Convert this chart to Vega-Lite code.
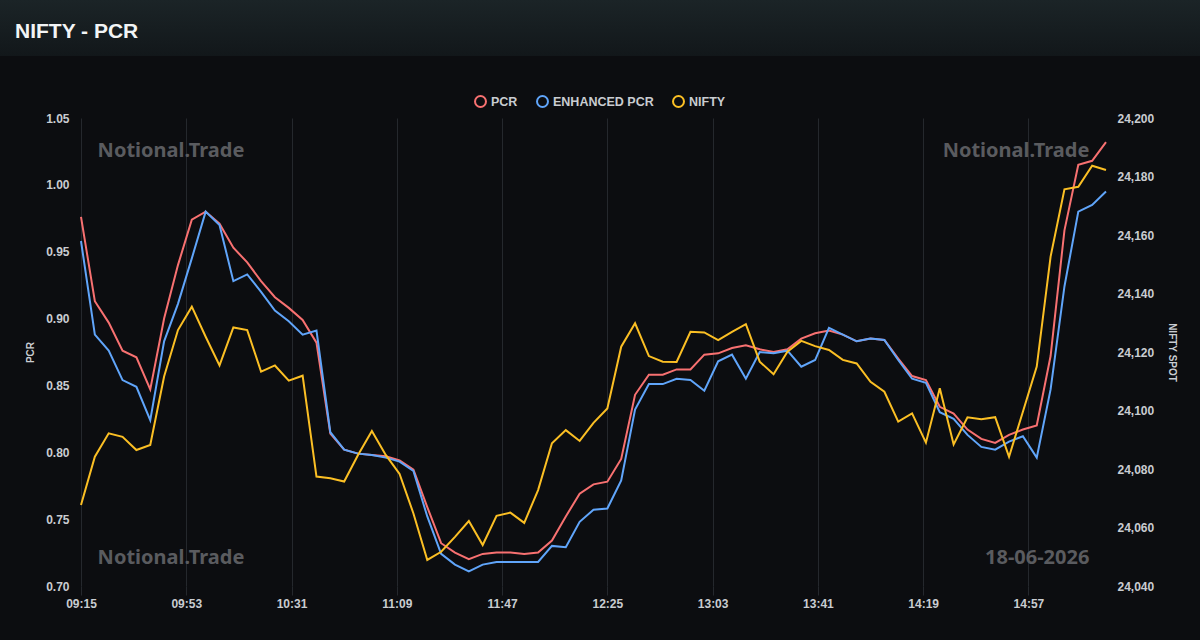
{
  "$schema": "https://vega.github.io/schema/vega-lite/v6.json",
  "background": "#0c0d10",
  "padding": {"left": 0, "top": 0, "right": 0, "bottom": 31},
  "spacing": 62,
  "bounds": "flush",
  "resolve": {"scale": {"color": "independent"}, "legend": {"color": "independent"}},
  "config": {
    "view": {"stroke": null},
    "font": "Liberation Sans",
    "axis": {
      "labelColor": "#c9ccd1",
      "labelFont": "Liberation Sans",
      "labelFontWeight": "bold",
      "labelFontSize": 12,
      "titleColor": "#c9ccd1",
      "titleFont": "Liberation Sans",
      "titleFontSize": 10,
      "titleFontWeight": "bold",
      "domain": false,
      "grid": false,
      "ticks": false
    },
    "legend": {
      "labelColor": "#c9ccd1",
      "labelFont": "Liberation Sans",
      "labelFontWeight": "bold",
      "labelFontSize": 12.5
    },
    "title": {"color": "#f2f4f5", "font": "Liberation Sans", "fontWeight": "bold"}
  },
  "datasets": {
    "pcr": [
      {"time": "09:15", "pcr": 0.976, "enhanced": 0.958, "nifty": 24067.7},
      {"time": "09:20", "pcr": 0.913, "enhanced": 0.888, "nifty": 24084.2},
      {"time": "09:25", "pcr": 0.897, "enhanced": 0.876, "nifty": 24092.2},
      {"time": "09:30", "pcr": 0.876, "enhanced": 0.854, "nifty": 24091.0},
      {"time": "09:35", "pcr": 0.871, "enhanced": 0.849, "nifty": 24086.5},
      {"time": "09:40", "pcr": 0.847, "enhanced": 0.824, "nifty": 24088.2},
      {"time": "09:45", "pcr": 0.900, "enhanced": 0.883, "nifty": 24111.6},
      {"time": "09:50", "pcr": 0.940, "enhanced": 0.911, "nifty": 24127.5},
      {"time": "09:55", "pcr": 0.974, "enhanced": 0.945, "nifty": 24135.5},
      {"time": "10:00", "pcr": 0.980, "enhanced": 0.980, "nifty": 24125.2},
      {"time": "10:05", "pcr": 0.971, "enhanced": 0.970, "nifty": 24115.4},
      {"time": "10:10", "pcr": 0.953, "enhanced": 0.928, "nifty": 24128.4},
      {"time": "10:15", "pcr": 0.942, "enhanced": 0.933, "nifty": 24127.5},
      {"time": "10:20", "pcr": 0.928, "enhanced": 0.920, "nifty": 24113.3},
      {"time": "10:25", "pcr": 0.916, "enhanced": 0.906, "nifty": 24115.4},
      {"time": "10:30", "pcr": 0.908, "enhanced": 0.898, "nifty": 24110.2},
      {"time": "10:35", "pcr": 0.899, "enhanced": 0.888, "nifty": 24111.9},
      {"time": "10:40", "pcr": 0.882, "enhanced": 0.891, "nifty": 24077.4},
      {"time": "10:45", "pcr": 0.814, "enhanced": 0.815, "nifty": 24076.8},
      {"time": "10:50", "pcr": 0.802, "enhanced": 0.802, "nifty": 24075.7},
      {"time": "10:55", "pcr": 0.799, "enhanced": 0.799, "nifty": 24084.8},
      {"time": "11:00", "pcr": 0.798, "enhanced": 0.798, "nifty": 24093.0},
      {"time": "11:05", "pcr": 0.797, "enhanced": 0.796, "nifty": 24084.8},
      {"time": "11:10", "pcr": 0.794, "enhanced": 0.793, "nifty": 24078.3},
      {"time": "11:15", "pcr": 0.787, "enhanced": 0.786, "nifty": 24064.8},
      {"time": "11:20", "pcr": 0.759, "enhanced": 0.752, "nifty": 24048.9},
      {"time": "11:25", "pcr": 0.732, "enhanced": 0.724, "nifty": 24051.7},
      {"time": "11:30", "pcr": 0.725, "enhanced": 0.716, "nifty": 24056.8},
      {"time": "11:35", "pcr": 0.720, "enhanced": 0.711, "nifty": 24062.2},
      {"time": "11:40", "pcr": 0.724, "enhanced": 0.716, "nifty": 24054.0},
      {"time": "11:45", "pcr": 0.725, "enhanced": 0.718, "nifty": 24064.0},
      {"time": "11:50", "pcr": 0.725, "enhanced": 0.718, "nifty": 24065.1},
      {"time": "11:55", "pcr": 0.724, "enhanced": 0.718, "nifty": 24061.6},
      {"time": "12:00", "pcr": 0.725, "enhanced": 0.718, "nifty": 24072.8},
      {"time": "12:05", "pcr": 0.734, "enhanced": 0.730, "nifty": 24088.8},
      {"time": "12:10", "pcr": 0.752, "enhanced": 0.729, "nifty": 24093.3},
      {"time": "12:15", "pcr": 0.769, "enhanced": 0.748, "nifty": 24089.6},
      {"time": "12:20", "pcr": 0.776, "enhanced": 0.757, "nifty": 24095.8},
      {"time": "12:25", "pcr": 0.778, "enhanced": 0.758, "nifty": 24100.7},
      {"time": "12:30", "pcr": 0.795, "enhanced": 0.779, "nifty": 24121.8},
      {"time": "12:35", "pcr": 0.843, "enhanced": 0.832, "nifty": 24129.8},
      {"time": "12:40", "pcr": 0.858, "enhanced": 0.851, "nifty": 24118.6},
      {"time": "12:45", "pcr": 0.858, "enhanced": 0.851, "nifty": 24116.7},
      {"time": "12:50", "pcr": 0.862, "enhanced": 0.855, "nifty": 24116.6},
      {"time": "12:55", "pcr": 0.862, "enhanced": 0.854, "nifty": 24126.9},
      {"time": "13:00", "pcr": 0.873, "enhanced": 0.846, "nifty": 24126.7},
      {"time": "13:05", "pcr": 0.874, "enhanced": 0.868, "nifty": 24124.1},
      {"time": "13:10", "pcr": 0.878, "enhanced": 0.873, "nifty": 24126.9},
      {"time": "13:15", "pcr": 0.880, "enhanced": 0.855, "nifty": 24129.5},
      {"time": "13:20", "pcr": 0.877, "enhanced": 0.875, "nifty": 24116.7},
      {"time": "13:25", "pcr": 0.875, "enhanced": 0.874, "nifty": 24112.4},
      {"time": "13:30", "pcr": 0.877, "enhanced": 0.876, "nifty": 24120.1},
      {"time": "13:35", "pcr": 0.885, "enhanced": 0.864, "nifty": 24123.8},
      {"time": "13:40", "pcr": 0.889, "enhanced": 0.869, "nifty": 24122.0},
      {"time": "13:45", "pcr": 0.891, "enhanced": 0.893, "nifty": 24120.7},
      {"time": "13:50", "pcr": 0.888, "enhanced": 0.888, "nifty": 24117.3},
      {"time": "13:55", "pcr": 0.883, "enhanced": 0.883, "nifty": 24116.1},
      {"time": "14:00", "pcr": 0.885, "enhanced": 0.885, "nifty": 24109.8},
      {"time": "14:05", "pcr": 0.884, "enhanced": 0.884, "nifty": 24106.4},
      {"time": "14:10", "pcr": 0.870, "enhanced": 0.869, "nifty": 24096.2},
      {"time": "14:15", "pcr": 0.857, "enhanced": 0.855, "nifty": 24099.0},
      {"time": "14:20", "pcr": 0.854, "enhanced": 0.852, "nifty": 24089.0},
      {"time": "14:25", "pcr": 0.834, "enhanced": 0.830, "nifty": 24107.6},
      {"time": "14:30", "pcr": 0.829, "enhanced": 0.825, "nifty": 24088.4},
      {"time": "14:35", "pcr": 0.817, "enhanced": 0.813, "nifty": 24097.7},
      {"time": "14:40", "pcr": 0.810, "enhanced": 0.804, "nifty": 24097.0},
      {"time": "14:45", "pcr": 0.807, "enhanced": 0.802, "nifty": 24097.7},
      {"time": "14:50", "pcr": 0.813, "enhanced": 0.808, "nifty": 24084.2},
      {"time": "14:55", "pcr": 0.817, "enhanced": 0.812, "nifty": 24099.6},
      {"time": "15:00", "pcr": 0.820, "enhanced": 0.796, "nifty": 24115.0},
      {"time": "15:05", "pcr": 0.872, "enhanced": 0.847, "nifty": 24152.6},
      {"time": "15:10", "pcr": 0.966, "enhanced": 0.924, "nifty": 24175.6},
      {"time": "15:15", "pcr": 1.015, "enhanced": 0.980, "nifty": 24176.5},
      {"time": "15:20", "pcr": 1.018, "enhanced": 0.985, "nifty": 24183.7},
      {"time": "15:25", "pcr": 1.032, "enhanced": 0.995, "nifty": 24182.2}
    ]
  },
  "vconcat": [
    {
      "width": 1200,
      "height": 56,
      "data": {"values": [{"panel": "header"}]},
      "title": {
        "text": "NIFTY - PCR",
        "anchor": "start",
        "frame": "group",
        "orient": "top",
        "baseline": "alphabetic",
        "offset": -59,
        "dx": 15,
        "fontSize": 21
      },
      "mark": {
        "type": "rect",
        "color": {
          "gradient": "linear",
          "x1": 0, "y1": 0, "x2": 0, "y2": 1,
          "stops": [
            {"offset": 0, "color": "#1b2427"},
            {"offset": 1, "color": "#12171a"}
          ]
        }
      },
      "encoding": {}
    },
    {
      "spacing": 0,
      "bounds": "flush",
      "hconcat": [
        {
          "width": 81,
          "height": 468,
          "data": {"values": []},
          "mark": "point",
          "encoding": {}
        },
        {
          "width": 1025,
          "height": 468,
          "data": {"name": "pcr", "format": {"parse": {"time": "utc:'%H:%M'"}}},
          "layer": [
            {
              "layer": [
                {
                  "transform": [{"fold": ["pcr", "enhanced"], "as": ["series", "value"]}],
                  "mark": {"type": "line", "strokeWidth": 2},
                  "encoding": {
                    "x": {
                      "field": "time",
                      "type": "temporal",
                      "scale": {
                        "type": "utc",
                        "domain": [
                          {"year": 1900, "month": 1, "date": 1, "hours": 9, "minutes": 15, "utc": true},
                          {"year": 1900, "month": 1, "date": 1, "hours": 15, "minutes": 25, "utc": true}
                        ]
                      },
                      "axis": {
                        "title": null,
                        "format": "%H:%M",
                        "values": [
                          {"year": 1900, "month": 1, "date": 1, "hours": 9, "minutes": 15, "utc": true},
                          {"year": 1900, "month": 1, "date": 1, "hours": 9, "minutes": 53, "utc": true},
                          {"year": 1900, "month": 1, "date": 1, "hours": 10, "minutes": 31, "utc": true},
                          {"year": 1900, "month": 1, "date": 1, "hours": 11, "minutes": 9, "utc": true},
                          {"year": 1900, "month": 1, "date": 1, "hours": 11, "minutes": 47, "utc": true},
                          {"year": 1900, "month": 1, "date": 1, "hours": 12, "minutes": 25, "utc": true},
                          {"year": 1900, "month": 1, "date": 1, "hours": 13, "minutes": 3, "utc": true},
                          {"year": 1900, "month": 1, "date": 1, "hours": 13, "minutes": 41, "utc": true},
                          {"year": 1900, "month": 1, "date": 1, "hours": 14, "minutes": 19, "utc": true},
                          {"year": 1900, "month": 1, "date": 1, "hours": 14, "minutes": 57, "utc": true}
                        ],
                        "grid": true,
                        "gridColor": "#25282d",
                        "ticks": true,
                        "tickColor": "#25282d",
                        "tickSize": 9,
                        "labelPadding": 3,
                        "labelAngle": 0,
                        "labelFlush": false,
                        "labelOverlap": false
                      }
                    },
                    "y": {
                      "field": "value",
                      "type": "quantitative",
                      "scale": {"domain": [0.7, 1.05], "nice": false, "zero": false},
                      "axis": {
                        "title": "PCR",
                        "format": ".2f",
                        "values": [0.7, 0.75, 0.8, 0.85, 0.9, 0.95, 1.0, 1.05],
                        "labelPadding": 12,
                        "titlePadding": 10
                      }
                    },
                    "color": {
                      "field": "series",
                      "type": "nominal",
                      "scale": {
                        "domain": ["pcr", "enhanced", "nifty"],
                        "range": ["#f87171", "#60a5fa", "#fbbf24"]
                      },
                      "legend": {
                        "title": null,
                        "orient": "none",
                        "direction": "horizontal",
                        "legendX": 474,
                        "legendY": -23,
                        "symbolType": "circle",
                        "symbolSize": 120,
                        "symbolStrokeWidth": 2,
                        "symbolFillColor": "transparent",
                        "labelOffset": 4,
                        "columnPadding": 15,
                        "labelExpr": "datum.label == 'pcr' ? 'PCR' : datum.label == 'enhanced' ? 'ENHANCED PCR' : 'NIFTY'"
                      }
                    }
                  }
                },
                {
                  "data": {"values": [{"label": "Notional.Trade"}]},
                  "mark": {"type": "text", "align": "left", "baseline": "middle", "font": "Noto Sans", "fontWeight": "bold", "fontSize": 20, "color": "#5a5b5f"},
                  "encoding": {
                    "text": {"field": "label"},
                    "x": {"datum": {"year": 1900, "month": 1, "date": 1, "hours": 9, "minutes": 21, "utc": true}, "type": "temporal"},
                    "y": {"datum": 1.025}
                  }
                },
                {
                  "data": {"values": [{"label": "Notional.Trade"}]},
                  "mark": {"type": "text", "align": "left", "baseline": "middle", "font": "Noto Sans", "fontWeight": "bold", "fontSize": 20, "color": "#5a5b5f"},
                  "encoding": {
                    "text": {"field": "label"},
                    "x": {"datum": {"year": 1900, "month": 1, "date": 1, "hours": 9, "minutes": 21, "utc": true}, "type": "temporal"},
                    "y": {"datum": 0.721}
                  }
                },
                {
                  "data": {"values": [{"label": "Notional.Trade"}]},
                  "mark": {"type": "text", "align": "right", "baseline": "middle", "font": "Noto Sans", "fontWeight": "bold", "fontSize": 20, "color": "#5a5b5f"},
                  "encoding": {
                    "text": {"field": "label"},
                    "x": {"datum": {"year": 1900, "month": 1, "date": 1, "hours": 15, "minutes": 19, "utc": true}, "type": "temporal"},
                    "y": {"datum": 1.025}
                  }
                },
                {
                  "data": {"values": [{"label": "18-06-2026"}]},
                  "mark": {"type": "text", "align": "right", "baseline": "middle", "font": "Noto Sans", "fontWeight": "bold", "fontSize": 20, "color": "#5a5b5f"},
                  "encoding": {
                    "text": {"field": "label"},
                    "x": {"datum": {"year": 1900, "month": 1, "date": 1, "hours": 15, "minutes": 19, "utc": true}, "type": "temporal"},
                    "y": {"datum": 0.721}
                  }
                }
              ]
            },
            {
              "transform": [{"fold": ["nifty"], "as": ["series", "value"]}],
              "mark": {"type": "line", "strokeWidth": 2},
              "encoding": {
                "x": {"field": "time", "type": "temporal"},
                "y": {
                  "field": "value",
                  "type": "quantitative",
                  "scale": {"domain": [24040, 24200], "nice": false, "zero": false},
                  "axis": {
                    "title": "NIFTY SPOT",
                    "orient": "right",
                    "format": ",.0f",
                    "values": [24040, 24060, 24080, 24100, 24120, 24140, 24160, 24180, 24200],
                    "labelPadding": 11,
                    "titlePadding": 13
                  }
                },
                "color": {"field": "series", "type": "nominal"}
              }
            }
          ],
          "resolve": {"scale": {"y": "independent"}}
        }
      ]
    }
  ]
}
